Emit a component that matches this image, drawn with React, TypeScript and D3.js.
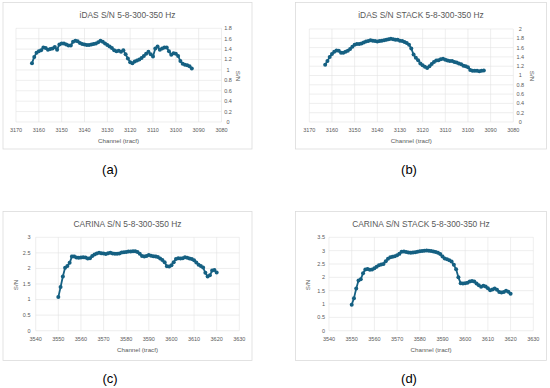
import React from "react";
import * as d3 from "d3";

// ---------- data ----------
const IDAS_CHANNELS = d3.range(3163, 3092, -1); // 3163 .. 3093
const CARINA_CHANNELS = d3.range(3550, 3621, 1); // 3550 .. 3620

const IDAS_SN = [
  1.13, 1.25, 1.33, 1.36, 1.38, 1.43, 1.42, 1.39, 1.4, 1.41,
  1.44, 1.39, 1.49, 1.51, 1.51, 1.49, 1.47, 1.47, 1.54, 1.56,
  1.55, 1.52, 1.5, 1.49, 1.48, 1.48, 1.49, 1.5, 1.51, 1.53,
  1.56, 1.54, 1.51, 1.48, 1.45, 1.42, 1.38, 1.36, 1.37, 1.35,
  1.38, 1.3, 1.22, 1.15, 1.13, 1.16, 1.18, 1.2, 1.23, 1.27,
  1.31, 1.35, 1.3, 1.26, 1.41, 1.45, 1.39, 1.41, 1.43, 1.43,
  1.36, 1.29, 1.32, 1.31, 1.27, 1.17, 1.12, 1.1, 1.09, 1.07,
  1.03,
];

const IDAS_STACK_SN = [
  1.23, 1.31, 1.4, 1.46, 1.51, 1.54, 1.53, 1.49, 1.49, 1.51,
  1.53, 1.57, 1.62, 1.66, 1.68, 1.68, 1.69, 1.71, 1.73, 1.74,
  1.76, 1.75, 1.74, 1.73, 1.74, 1.75, 1.76, 1.77, 1.78, 1.79,
  1.78, 1.77, 1.77, 1.75, 1.74, 1.72, 1.7, 1.66, 1.58, 1.45,
  1.38, 1.33, 1.26, 1.22, 1.19, 1.16, 1.2, 1.25, 1.29, 1.32,
  1.33, 1.35, 1.36, 1.34, 1.32, 1.31, 1.31, 1.29, 1.28, 1.26,
  1.24, 1.21, 1.2, 1.18, 1.12, 1.1, 1.1, 1.1, 1.09, 1.1,
  1.11,
];

const CARINA_SN = [
  1.08, 1.4, 1.74, 2.02, 2.08, 2.18, 2.38, 2.38, 2.35, 2.34,
  2.35, 2.36, 2.35, 2.32, 2.33, 2.4, 2.45, 2.48, 2.5, 2.49,
  2.48, 2.46, 2.49, 2.5, 2.48, 2.47, 2.47, 2.48, 2.51, 2.52,
  2.53, 2.54, 2.54, 2.55, 2.55, 2.53, 2.47, 2.4, 2.38, 2.4,
  2.43, 2.41, 2.39, 2.38, 2.37, 2.32, 2.27, 2.2, 2.07, 2.06,
  2.1, 2.2, 2.3, 2.33, 2.32, 2.33, 2.36, 2.34, 2.32, 2.3,
  2.26, 2.19, 2.12, 2.08, 2.03, 1.86, 1.74, 1.78, 1.93, 1.95,
  1.87,
];

const CARINA_STACK_SN = [
  0.97, 1.22, 1.58, 1.88, 1.93, 2.15, 2.29, 2.31, 2.28, 2.29,
  2.34, 2.4, 2.45, 2.48, 2.5, 2.6, 2.7, 2.75, 2.77, 2.79,
  2.83, 2.88, 2.96, 2.97, 2.95, 2.93, 2.92, 2.93, 2.94, 2.96,
  2.98, 2.99, 3.0, 3.01, 3.0, 2.99, 2.97, 2.95, 2.92, 2.87,
  2.78, 2.71, 2.68, 2.64, 2.59, 2.47, 2.3, 2.0, 1.78, 1.77,
  1.78, 1.8, 1.84, 1.86, 1.84, 1.77, 1.7, 1.65, 1.68, 1.66,
  1.59, 1.52, 1.54, 1.58, 1.53, 1.45, 1.43, 1.45, 1.5, 1.46,
  1.38,
];

const IDAS_X_TICKS = [3170, 3160, 3150, 3140, 3130, 3120, 3110, 3100, 3090, 3080];
const CARINA_X_TICKS = [3540, 3550, 3560, 3570, 3580, 3590, 3600, 3610, 3620, 3630];
const Y_TICKS_A = [0, 0.2, 0.4, 0.6, 0.8, 1, 1.2, 1.4, 1.6, 1.8];
const Y_TICKS_B = [0, 0.2, 0.4, 0.6, 0.8, 1, 1.2, 1.4, 1.6, 1.8, 2];
const Y_TICKS_C = [0, 0.5, 1, 1.5, 2, 2.5, 3];
const Y_TICKS_D = [0, 0.5, 1, 1.5, 2, 2.5, 3, 3.5];

const TITLES = [
  "iDAS S/N 5-8-300-350 Hz",
  "iDAS S/N STACK 5-8-300-350 Hz",
  "CARINA S/N 5-8-300-350 Hz",
  "CARINA S/N STACK 5-8-300-350 Hz",
];
const CAPTIONS = ["(a)", "(b)", "(c)", "(d)"];
const X_TITLE = "Channel (tracf)";
const Y_TITLE = "S/N";

// ---------- styles ----------
const LINE_COLOR = "#156082";
const GRID_COLOR = "#e3e3e3";
const BORDER_COLOR = "#d9d9d9";
const TEXT_COLOR = "#595959";
const FONT = "'Liberation Sans', Arial, sans-serif";

type Spec = {
  channels: number[];
  values: number[];
  xTicks: number[];
  yTicks: number[];
  xDomain: [number, number];
  yMax: number;
  title: string;
  caption: string;
  box: { x: number; y: number; w: number; h: number };
  plot: { left: number; right: number; top: number; bottom: number };
  yAxisRight: boolean;
  yLabelX: number;
  yTitle: { x: number; y: number; rot: number };
  titlePos: { x: number; y: number };
  xLabelY: number;
  xTitlePos: { x: number; y: number };
  captionPos: { x: number; y: number };
};

const PANELS: Spec[] = [
  {
    channels: IDAS_CHANNELS,
    values: IDAS_SN,
    xTicks: IDAS_X_TICKS,
    yTicks: Y_TICKS_A,
    xDomain: [3170, 3080],
    yMax: 1.8,
    title: TITLES[0],
    caption: CAPTIONS[0],
    box: { x: 3, y: 2.5, w: 249, h: 146.5 },
    plot: { left: 16, right: 221.5, top: 28.3, bottom: 122 },
    yAxisRight: true,
    yLabelX: 228,
    yTitle: { x: 238.5, y: 76, rot: 90 },
    titlePos: { x: 127.5, y: 18 },
    xLabelY: 131.5,
    xTitlePos: { x: 118.5, y: 142.5 },
    captionPos: { x: 110, y: 174 },
  },
  {
    channels: IDAS_CHANNELS,
    values: IDAS_STACK_SN,
    xTicks: IDAS_X_TICKS,
    yTicks: Y_TICKS_B,
    xDomain: [3170, 3080],
    yMax: 2,
    title: TITLES[1],
    caption: CAPTIONS[1],
    box: { x: 295.5, y: 2.5, w: 251, h: 146.5 },
    plot: { left: 309.3, right: 513.3, top: 29, bottom: 122 },
    yAxisRight: true,
    yLabelX: 520.3,
    yTitle: { x: 532.5, y: 76, rot: 90 },
    titlePos: { x: 421, y: 18 },
    xLabelY: 131.5,
    xTitlePos: { x: 411.3, y: 142.5 },
    captionPos: { x: 409, y: 174 },
  },
  {
    channels: CARINA_CHANNELS,
    values: CARINA_SN,
    xTicks: CARINA_X_TICKS,
    yTicks: Y_TICKS_C,
    xDomain: [3540, 3630],
    yMax: 3,
    title: TITLES[2],
    caption: CAPTIONS[2],
    box: { x: 3, y: 211.5, w: 249, h: 149 },
    plot: { left: 35.7, right: 239.3, top: 237.3, bottom: 330.7 },
    yAxisRight: false,
    yLabelX: 30.5,
    yTitle: { x: 15.7, y: 285, rot: -90 },
    titlePos: { x: 127.5, y: 226.5 },
    xLabelY: 341,
    xTitlePos: { x: 137.5, y: 351.5 },
    captionPos: { x: 110, y: 382.5 },
  },
  {
    channels: CARINA_CHANNELS,
    values: CARINA_STACK_SN,
    xTicks: CARINA_X_TICKS,
    yTicks: Y_TICKS_D,
    xDomain: [3540, 3630],
    yMax: 3.5,
    title: TITLES[3],
    caption: CAPTIONS[3],
    box: { x: 295.5, y: 211.5, w: 251, h: 149 },
    plot: { left: 329, right: 533.3, top: 237.3, bottom: 330.7 },
    yAxisRight: false,
    yLabelX: 325,
    yTitle: { x: 308.3, y: 285, rot: -90 },
    titlePos: { x: 421, y: 226.5 },
    xLabelY: 341,
    xTitlePos: { x: 431, y: 351.5 },
    captionPos: { x: 409, y: 382.5 },
  },
];

function Panel({ s }: { s: Spec }) {
  const x = d3.scaleLinear().domain(s.xDomain).range([s.plot.left, s.plot.right]);
  const y = d3.scaleLinear().domain([0, s.yMax]).range([s.plot.bottom, s.plot.top]);
  const pts: [number, number][] = s.channels.map((c, i) => [c, s.values[i]]);
  const line = d3
    .line<[number, number]>()
    .x((d) => x(d[0]))
    .y((d) => y(d[1]));
  const fmt = (v: number) => String(+v.toFixed(2));
  return (
    <g>
      <rect
        x={s.box.x}
        y={s.box.y}
        width={s.box.w}
        height={s.box.h}
        fill="#fff"
        stroke={BORDER_COLOR}
        strokeWidth={0.75}
      />
      {s.yTicks.map((t) => (
        <line
          key={"h" + t}
          x1={s.plot.left}
          x2={s.plot.right}
          y1={y(t)}
          y2={y(t)}
          stroke={GRID_COLOR}
          strokeWidth={0.6}
        />
      ))}
      {s.xTicks.map((t) => (
        <line
          key={"v" + t}
          x1={x(t)}
          x2={x(t)}
          y1={s.plot.top}
          y2={s.plot.bottom}
          stroke={GRID_COLOR}
          strokeWidth={0.6}
        />
      ))}
      <path d={line(pts) || ""} fill="none" stroke={LINE_COLOR} strokeWidth={1.8} strokeLinejoin="round" />
      {pts.map((p, i) => (
        <circle key={i} cx={x(p[0])} cy={y(p[1])} r={2} fill={LINE_COLOR} />
      ))}
      <g fontFamily={FONT} fill={TEXT_COLOR}>
        {s.xTicks.map((t) => (
          <text key={"xl" + t} x={x(t)} y={s.xLabelY} fontSize={5.5} textAnchor="middle">
            {t}
          </text>
        ))}
        {s.yTicks.map((t) => (
          <text
            key={"yl" + t}
            x={s.yLabelX}
            y={y(t)}
            dy="0.35em"
            fontSize={5.5}
            textAnchor={s.yAxisRight ? "middle" : "end"}
          >
            {fmt(t)}
          </text>
        ))}
        <text x={s.titlePos.x} y={s.titlePos.y} fontSize={8.4} textAnchor="middle">
          {s.title}
        </text>
        <text x={s.xTitlePos.x} y={s.xTitlePos.y} fontSize={6.2} textAnchor="middle">
          {X_TITLE}
        </text>
        <text
          transform={`translate(${s.yTitle.x},${s.yTitle.y}) rotate(${s.yTitle.rot})`}
          fontSize={6.2}
          textAnchor="middle"
          dy="0.35em"
        >
          {Y_TITLE}
        </text>
      </g>
      <text
        x={s.captionPos.x}
        y={s.captionPos.y}
        fontSize={13}
        fontFamily={FONT}
        fill="#000"
        textAnchor="middle"
      >
        {s.caption}
      </text>
    </g>
  );
}

export default function App() {
  return (
    <svg
      width={550}
      height={388}
      viewBox="0 0 550 388"
      style={{ position: "absolute", left: 0, top: 0, background: "#fff" }}
    >
      <rect x={0} y={0} width={550} height={388} fill="#fff" />
      {PANELS.map((s, i) => (
        <Panel key={i} s={s} />
      ))}
    </svg>
  );
}
